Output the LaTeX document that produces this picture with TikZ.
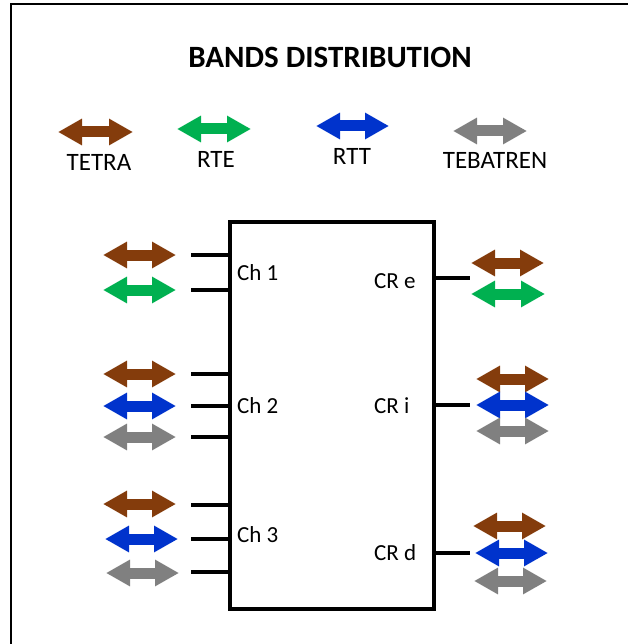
\documentclass[tikz,border=0pt]{standalone}
\usepackage{fontspec}
\setmainfont{Carlito}
\usepackage{xcolor}
\usetikzlibrary{arrows.meta}

\definecolor{tetra}{HTML}{843C0C}
\definecolor{rte}{HTML}{00B050}
\definecolor{rtt}{HTML}{0033CC}
\definecolor{tebatren}{HTML}{808080}

\tikzset{
  band/.style={line width=11pt, draw=#1,
    {Triangle[length=24pt,width=25pt,fill=#1]}-{Triangle[length=24pt,width=25pt,fill=#1]}},
  stub/.style={line width=3.5pt},
  legend/.style={font=\fontsize{25}{28}\selectfont, inner sep=0pt},
  chlabel/.style={font=\fontsize{23}{26}\selectfont, inner sep=0pt, anchor=west}
}

\begin{document}
\begin{tikzpicture}[x=1pt,y=-1pt]

\useasboundingbox (0,0) rectangle (627,644);

\draw[line width=2.5pt] (11,650) -- (11,4) -- (640,4);

\node[font=\bfseries\fontsize{31}{34}\selectfont, inner sep=0pt](title) at (330,57) {BANDS DISTRIBUTION};

% legend
\draw[band=tetra] (58,132) -- (133,132);
\draw[band=rte] (177,129) -- (251,129);
\draw[band=rtt] (316,126) -- (389,126);
\draw[band=tebatren] (453,131) -- (527,131);
\node[legend](ltetra) at (99,162) {TETRA};
\node[legend](lrte) at (216,159) {RTE};
\node[legend](lrtt) at (352,156) {RTT};
\node[legend](ltebatren) at (495,160) {TEBATREN};

\node[draw, line width=3.5pt, minimum width=204pt, minimum height=387pt, inner sep=0pt](box) at (332,415.5) {};

% left side
\draw[band=tetra] (103,255) -- (176,255);
\draw[band=rte] (103,290) -- (176,290);
\draw[band=tetra] (103,374) -- (176,374);
\draw[band=rtt] (103,406) -- (176,406);
\draw[band=tebatren] (103,437) -- (176,437);
\draw[band=tetra] (103,504) -- (176,504);
\draw[band=rtt] (105,539) -- (178,539);
\draw[band=tebatren] (106,573) -- (179,573);

\foreach \y in {255,290,374,406,437,505,539,572}
  \draw[stub] (box.west |- 0,\y) -- ++(-37,0);

\node[chlabel](ch1) at (237,273) {Ch 1};
\node[chlabel](ch2) at (237,406) {Ch 2};
\node[chlabel](ch3) at (237,535) {Ch 3};

% right side
\draw[band=tetra] (471,263) -- (544,263);
\draw[band=rte] (471,294) -- (545,294);
\draw[band=tetra] (476,379) -- (549,379);
\draw[band=rtt] (476,405) -- (549,405);
\draw[band=tebatren] (476,431) -- (549,431);
\draw[band=tetra] (473,526) -- (546,526);
\draw[band=rtt] (475,553) -- (548,553);
\draw[band=tebatren] (474,581) -- (547,581);

\foreach \y in {278,405,553}
  \draw[stub] (box.east |- 0,\y) -- ++(34,0);

\node[chlabel](cre) at (374,281) {CR e};
\node[chlabel](cri) at (374,406) {CR i};
\node[chlabel](crd) at (374,553) {CR d};

\end{tikzpicture}
\end{document}
